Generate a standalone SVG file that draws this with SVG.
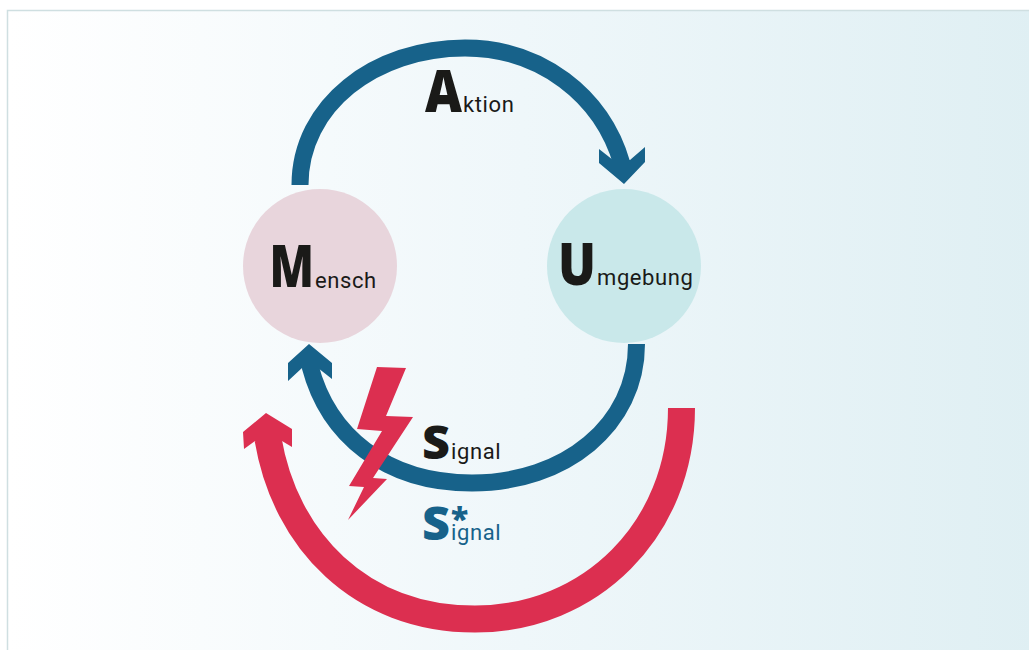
<svg xmlns="http://www.w3.org/2000/svg" width="1029" height="650" viewBox="0 0 1029 650">
<style>
.big{font-family:"Open Sans","Liberation Sans",sans-serif;font-weight:800;fill:#1a1a18}
.sm{font-family:"Roboto","Liberation Sans",sans-serif;font-size:22px;font-weight:400;fill:#1a1a18;letter-spacing:.6px}
.blue{fill:#17628a}
.bluel{fill:none;stroke:#17628a;stroke-width:17}
.red{fill:#dc2f50}
.redl{fill:none;stroke:#dc2f50;stroke-width:27}
.st{fill:#17628a}
</style>
<defs><linearGradient id="bg" x1="0" x2="1" y1="0" y2="0"><stop offset="0" stop-color="#ffffff"/><stop offset="0.5" stop-color="#eff7fa"/><stop offset="1" stop-color="#dfeff3"/></linearGradient></defs>
<rect id="panel" x="7.500" y="10.500" width="1030" height="650" fill="url(#bg)" stroke="#cfdfe1" stroke-width="1.500"/>
<g id="connectors">
<g id="aktion-arrow"><path class="bluel" d="M300 185C300 105 375 48 465 48C540 48 602 95 622 164"/><polygon class="blue" points="624,184 599,163 599,149 613,160 630,160 645,147 645,162"/></g>
<g id="signal-arrow"><path class="bluel" d="M636.500 344C636.500 425 565 483 472 483C385 483 328 435 310 366"/><polygon class="blue" points="309,344 288,363 288,381 302,368 318,368 332,379 332,363"/></g>
<g id="signal-star-arrow"><path class="redl" d="M681.500 408C681.500 530 590 619 475 619C360 619 285 540 268 439"/><polygon class="red" points="266,413 243,432 244,449 255,441 282,441 292,447 292,429"/></g>
</g>
<g id="node-mensch"><circle cx="320" cy="266" r="77" fill="#e8d5dc"/><text class="big" x="269.500" y="287" font-size="58" textLength="44.500" lengthAdjust="spacingAndGlyphs">M</text><text class="sm" x="315" y="288">ensch</text></g>
<g id="node-umgebung"><circle cx="624" cy="266" r="77" fill="#c9e8ea"/><text class="big" x="558" y="285" font-size="58" textLength="38" lengthAdjust="spacingAndGlyphs">U</text><text class="sm" x="597" y="285">mgebung</text></g>
<g id="label-aktion"><text class="big" x="425" y="112" font-size="58" textLength="37" lengthAdjust="spacingAndGlyphs">A</text><text class="sm" x="463" y="112">ktion</text></g>
<polygon id="bolt" class="red" points="377,367 406,368 386,416 413,417 373,478 387,479 348,520 364,487 349,486 382,431 357,429"/>
<g id="label-signal"><text class="big" x="422" y="459" font-size="46" textLength="28" lengthAdjust="spacingAndGlyphs">S</text><text class="sm" x="451" y="459">ignal</text></g>
<g id="label-signal-star"><text class="big st" x="422" y="540" font-size="46" textLength="28" lengthAdjust="spacingAndGlyphs">S</text><text class="big st" x="451" y="530" font-size="32">*</text><text class="sm st" x="451" y="540">ignal</text></g>
</svg>
